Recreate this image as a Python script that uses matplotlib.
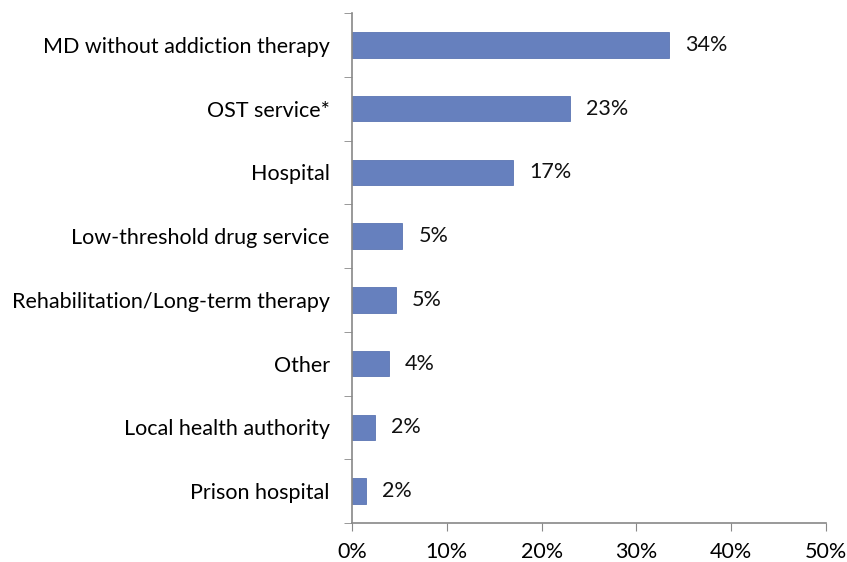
import matplotlib.pyplot as plt
import numpy as np

categories = ['MD without addiction therapy', 'OST service*', 'Hospital',
              'Low-threshold drug service', 'Rehabilitation/Long-term therapy',
              'Other', 'Local health authority', 'Prison hospital']
values = [33.4, 23.0, 17.0, 5.3, 4.6, 3.9, 2.4, 1.5]
labels = ['34%', '23%', '17%', '5%', '5%', '4%', '2%', '2%']
xticks = [0, 10, 20, 30, 40, 50]

plt.rcParams['font.family'] = ['Lato', 'DejaVu Sans']
fs = 15.5

fig = plt.figure(figsize=(8.47, 5.62), dpi=100)
ax = fig.add_axes([352 / 847, 1 - 523 / 562, (826 - 352) / 847, (523 - 13) / 562])

y = np.arange(len(categories))[::-1]
ax.barh(y, values, height=0.4, color='#6680BE', edgecolor='#5A74B2', linewidth=0.6)
for yi, v, lab in zip(y, values, labels):
    ax.text(v + 1.7, yi, lab, va='center', ha='left', fontsize=fs, color='#111111')

ax.set_xlim(0, 50)
ax.set_ylim(-0.5, len(categories) - 0.5)
ax.set_xticks(xticks)
ax.set_xticklabels([f'{t}%' for t in xticks], fontsize=fs)
ax.set_yticks(y)
ax.set_yticklabels(categories, fontsize=fs)
ax.set_yticks(np.arange(-0.5, len(categories)), minor=True)
ax.tick_params(axis='y', which='major', length=0, pad=16)
ax.tick_params(axis='y', which='minor', length=6, color='#888888', direction='out')
ax.tick_params(axis='x', length=6, color='#888888', direction='out', pad=8)

for s in ['top', 'right']:
    ax.spines[s].set_visible(False)
for s in ['left', 'bottom']:
    ax.spines[s].set_color('#888888')
    ax.spines[s].set_linewidth(1.2)

fig.savefig('out.png', dpi=100)
